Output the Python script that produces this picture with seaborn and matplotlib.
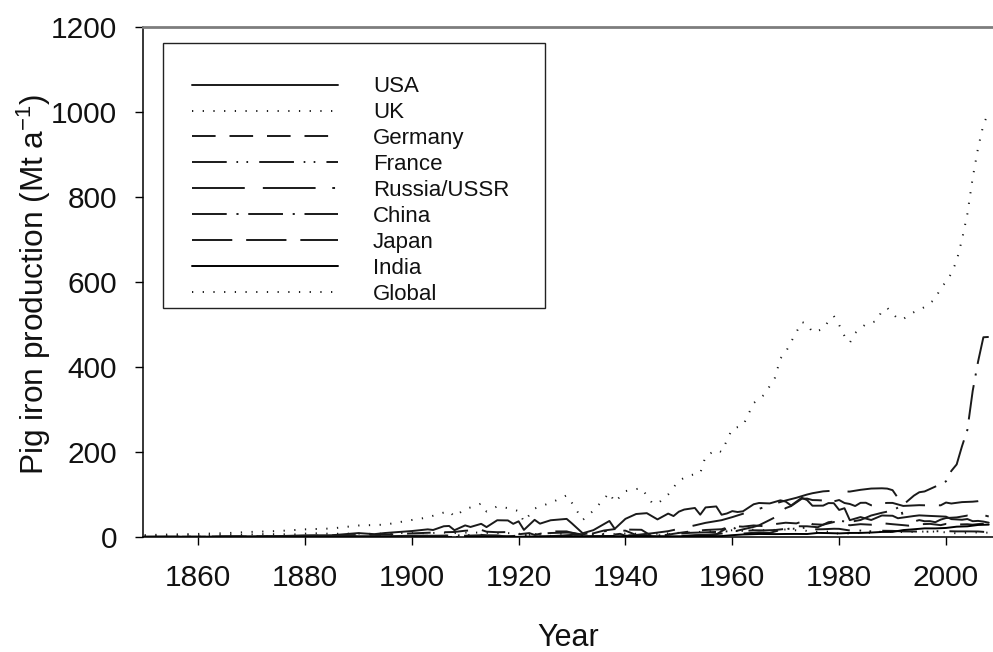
import matplotlib
matplotlib.use("Agg")
import matplotlib.pyplot as plt
from matplotlib.patches import Rectangle
import seaborn as sns
import pandas as pd

# ---------------- data (Mt per year) ----------------
global_years = [1850, 1855, 1860, 1865, 1870, 1875, 1880, 1885, 1890, 1895, 1900, 1903, 1905, 1907, 1908,
                1910, 1912, 1913, 1914, 1916, 1918, 1920, 1921, 1923, 1925, 1927, 1929, 1930, 1932, 1934,
                1937, 1938, 1940, 1943, 1945, 1946, 1948, 1950, 1952, 1954, 1955, 1957, 1958, 1960, 1962,
                1964, 1966, 1968, 1969, 1970, 1971, 1972, 1973, 1974, 1975, 1977, 1978, 1979, 1980, 1981,
                1982, 1983, 1985, 1987, 1988, 1989, 1991, 1992, 1994, 1996, 1998, 1999, 2000, 2001, 2002,
                2003, 2004, 2005, 2006, 2007, 2008]
global_vals = [4.5, 6, 7.3, 9, 12, 14, 18, 20, 27, 29, 40, 46, 54, 61, 48,
               66, 73, 79, 60, 72, 68, 61, 36, 67, 76, 86, 98, 80, 40, 62,
               104, 82, 108, 115, 80, 78, 100, 133, 145, 150, 190, 205, 200, 255, 262,
               315, 335, 375, 420, 435, 459, 482, 506, 501, 482, 489, 508, 520, 499, 473,
               457, 480, 501, 508, 532, 539, 513, 513, 529, 541, 560, 586, 600, 620, 650,
               700, 760, 845, 915, 970, 1000]

usa_years = [1850, 1860, 1870, 1875, 1880, 1885, 1890, 1893, 1895, 1900, 1903, 1904, 1906, 1907, 1908,
             1910, 1911, 1913, 1914, 1916, 1918, 1919, 1920, 1921, 1923, 1924, 1926, 1929, 1930, 1932,
             1934, 1937, 1938, 1940, 1942, 1944, 1946, 1948, 1949, 1950, 1951, 1953, 1954, 1955, 1957,
             1958, 1959, 1960, 1961, 1962, 1964, 1965, 1967, 1969, 1970, 1971, 1973, 1974, 1975, 1977,
             1978, 1979, 1980, 1981, 1982, 1984, 1986, 1988, 1990, 1991, 1994, 1995, 1997, 2000, 2001,
             2003, 2004, 2005, 2006, 2007, 2008]
usa_vals = [0.6, 0.8, 1.7, 2.1, 3.8, 4.1, 9.2, 6.7, 9.4, 14, 18, 16.5, 25.3, 26, 16,
            27.3, 23.6, 31, 23.3, 39.4, 39, 31, 36.9, 16.7, 40.4, 31.4, 39.4, 42.6, 31.8, 8.8,
            16.1, 37.7, 19.2, 42.7, 54.1, 56.1, 41.4, 55.1, 49.3, 59.6, 64.6, 68.3, 52.5, 69.6, 71.9,
            52.4, 55.4, 60.9, 58.8, 60.5, 77, 80, 79, 86.3, 83.3, 74, 92.3, 86.9, 73.6, 73.8,
            79.8, 79.6, 63.7, 67.7, 39.6, 46.9, 40, 50.6, 50, 44.1, 49.4, 50.9, 49.6, 47.9, 42.1,
            40.6, 42.3, 37.2, 37.9, 36.3, 33.7]

uk_years = [1850, 1855, 1860, 1865, 1870, 1872, 1875, 1879, 1880, 1882, 1885, 1887, 1890, 1893, 1896,
            1899, 1900, 1903, 1906, 1908, 1910, 1913, 1915, 1918, 1920, 1921, 1923, 1926, 1927, 1929,
            1931, 1933, 1935, 1937, 1938, 1940, 1943, 1945, 1947, 1950, 1952, 1955, 1957, 1958, 1960,
            1962, 1964, 1966, 1968, 1970, 1972, 1973, 1974, 1975, 1977, 1979, 1980, 1982, 1984, 1986,
            1988, 1990, 1992, 1994, 1996, 1998, 2000, 2002, 2004, 2006, 2008]
uk_vals = [2.3, 3.3, 3.9, 4.9, 6.1, 6.8, 6.5, 6.1, 7.9, 8.7, 7.5, 7.7, 8.0, 7.1, 8.8,
           9.6, 9.1, 9.1, 10.3, 9.2, 10.2, 10.4, 8.9, 9.2, 8.2, 2.7, 7.6, 2.5, 7.4, 7.7,
           3.8, 4.2, 6.5, 8.6, 6.9, 8.3, 7.3, 7.2, 7.9, 9.8, 10.9, 12.7, 14.5, 13.1, 16.0,
           14.2, 17.3, 15.9, 16.7, 17.7, 15.6, 17.1, 14.0, 12.3, 12.4, 13.0, 6.4, 8.7, 9.5, 9.8,
           12.9, 12.3, 11.6, 12.2, 12.8, 12.7, 10.9, 8.6, 10.2, 10.8, 10.1]

germany_years = [1850, 1855, 1860, 1865, 1870, 1875, 1880, 1885, 1890, 1895, 1900, 1905, 1908, 1910, 1913,
                 1914, 1916, 1918, 1919, 1920, 1922, 1923, 1925, 1927, 1929, 1930, 1932, 1934, 1936, 1938,
                 1940, 1943, 1945, 1946, 1948, 1950, 1952, 1955, 1958, 1960, 1962, 1964, 1966, 1968, 1970,
                 1972, 1974, 1975, 1977, 1979, 1980, 1982, 1984, 1986, 1988, 1990, 1992, 1993, 1995, 1997,
                 1999, 2000, 2002, 2004, 2005, 2006, 2007, 2008]
germany_vals = [0.2, 0.4, 0.5, 1.0, 1.4, 2.0, 2.7, 3.7, 4.7, 5.5, 8.5, 10.9, 11.8, 14.8, 16.8,
                12.5, 11.3, 11.6, 5.6, 6.4, 9.2, 4.9, 10.2, 13.1, 13.2, 9.7, 3.9, 8.7, 15.3, 18.6,
                17.5, 17.0, 1.5, 2.1, 5.5, 9.5, 12.9, 16.5, 18.3, 25.7, 24.3, 27.2, 25.4, 30.4, 33.6,
                32.0, 40.2, 30.1, 28.9, 35.2, 33.9, 27.6, 30.2, 28.9, 32.5, 30.1, 27.9, 26.7, 30.0, 30.9,
                27.9, 30.8, 29.4, 30.0, 28.9, 30.4, 31.1, 29.1]

france_years = [1850, 1855, 1860, 1865, 1870, 1875, 1880, 1885, 1890, 1895, 1900, 1905, 1910, 1913, 1914,
                1915, 1917, 1919, 1920, 1922, 1924, 1926, 1929, 1930, 1932, 1934, 1936, 1938, 1939, 1940,
                1942, 1944, 1946, 1948, 1950, 1952, 1955, 1957, 1960, 1962, 1964, 1966, 1968, 1970, 1972,
                1974, 1975, 1977, 1979, 1980, 1982, 1984, 1986, 1988, 1990, 1992, 1994, 1996, 1998, 2000,
                2002, 2004, 2006, 2008]
france_vals = [0.4, 0.9, 0.9, 1.2, 1.2, 1.5, 1.7, 1.6, 2.0, 2.0, 2.7, 3.1, 4.0, 5.2, 2.7,
               0.6, 1.4, 2.4, 3.4, 5.2, 7.7, 9.4, 10.4, 10.0, 5.5, 6.2, 6.2, 6.0, 7.4, 3.0,
               3.4, 1.2, 3.5, 6.6, 7.8, 9.8, 11.0, 11.9, 14.0, 14.0, 15.8, 15.6, 16.4, 19.2, 19.6,
               22.5, 17.9, 18.3, 19.4, 19.2, 15.3, 15.1, 13.4, 14.7, 14.4, 13.1, 13.0, 12.1, 13.6, 13.7,
               13.2, 13.2, 13.0, 11.2]

russia_years = [1850, 1860, 1870, 1880, 1890, 1900, 1905, 1910, 1913, 1916, 1918, 1920, 1925, 1928, 1930,
                1932, 1935, 1937, 1940, 1942, 1945, 1948, 1950, 1953, 1955, 1958, 1960, 1963, 1965, 1968,
                1970, 1972, 1974, 1975, 1977, 1979, 1980, 1982, 1984, 1986, 1988, 1989, 1990, 1991, 1992,
                1993, 1994, 1995, 1996, 1997, 1998, 1999, 2000, 2002, 2004, 2005, 2006, 2007, 2008]
russia_vals = [0.2, 0.3, 0.4, 0.5, 0.9, 2.9, 2.7, 3.0, 4.2, 3.8, 0.6, 0.1, 1.3, 3.3, 5.0,
               6.2, 12.5, 14.5, 14.9, 4.8, 8.8, 13.7, 19.2, 27.4, 33.3, 39.6, 46.8, 58.7, 66.2, 78.8,
               85.9, 92.3, 99.9, 103.0, 107.4, 109.0, 107.3, 106.9, 111.0, 114.0, 114.6, 113.9, 110.2, 92.0, 46.1,
               40.9, 36.5, 39.8, 37.1, 37.3, 34.8, 40.9, 44.6, 46.1, 50.4, 48.4, 51.7, 51.5, 48.3]

china_years = [1900, 1910, 1920, 1930, 1936, 1943, 1949, 1950, 1952, 1955, 1957, 1958, 1959, 1960, 1961,
               1962, 1965, 1967, 1969, 1970, 1972, 1974, 1976, 1978, 1980, 1982, 1984, 1986, 1988, 1990,
               1992, 1994, 1995, 1996, 1998, 2000, 2001, 2002, 2003, 2004, 2005, 2006, 2007, 2008]
china_vals = [0.03, 0.12, 0.26, 0.5, 0.8, 1.8, 0.25, 1.0, 1.9, 3.9, 5.9, 13.7, 20.5, 27.2, 12.8,
              8.1, 10.8, 9.6, 16.5, 17.1, 25.3, 25.2, 23.0, 34.8, 38.0, 35.5, 40.0, 50.6, 57.0, 62.4,
              75.9, 97.4, 105.3, 107.2, 118.6, 131.0, 155.5, 170.8, 213.7, 251.9, 343.8, 412.4, 470.0, 470.7]

japan_years = [1900, 1910, 1920, 1930, 1935, 1938, 1940, 1942, 1943, 1945, 1946, 1948, 1950, 1953, 1955,
               1957, 1959, 1960, 1962, 1964, 1965, 1967, 1968, 1969, 1970, 1971, 1973, 1974, 1975, 1976,
               1977, 1978, 1979, 1980, 1981, 1982, 1983, 1984, 1985, 1986, 1987, 1988, 1989, 1990, 1992,
               1993, 1995, 1996, 1998, 1999, 2000, 2001, 2003, 2005, 2006, 2007, 2008]
japan_vals = [0.02, 0.19, 0.52, 1.16, 1.9, 2.6, 3.5, 4.3, 4.0, 1.0, 0.2, 0.8, 2.2, 4.5, 5.2,
              6.8, 9.4, 11.9, 18.0, 23.8, 27.5, 40.0, 46.4, 57.9, 68.0, 72.7, 90.0, 90.4, 86.9, 86.6,
              85.9, 78.6, 83.8, 87.0, 80.0, 77.7, 72.9, 80.4, 80.6, 74.7, 73.4, 79.3, 80.2, 80.2, 73.1,
              73.7, 74.9, 74.6, 74.9, 74.5, 81.1, 78.8, 82.1, 83.1, 84.3, 86.8, 86.2]

india_years = [1910, 1920, 1925, 1930, 1935, 1940, 1945, 1950, 1955, 1958, 1960, 1962, 1965, 1968, 1970,
               1972, 1974, 1976, 1978, 1980, 1982, 1984, 1986, 1988, 1990, 1992, 1994, 1996, 1998, 2000,
               2002, 2004, 2006, 2008]
india_vals = [0.2, 0.3, 0.9, 1.2, 1.5, 2.0, 1.5, 1.7, 1.9, 2.2, 4.3, 5.9, 7.1, 6.8, 7.1,
              7.2, 7.0, 9.6, 9.2, 8.5, 9.5, 9.6, 10.5, 11.9, 12.0, 16.3, 18.2, 20.3, 20.2, 21.3,
              24.3, 25.1, 28.3, 29.1]

labels = ["USA", "UK", "Germany", "France", "Russia/USSR", "China", "Japan", "India", "Global"]
series_years = [usa_years, uk_years, germany_years, france_years, russia_years,
                china_years, japan_years, india_years, global_years]
series_vals = [usa_vals, uk_vals, germany_vals, france_vals, russia_vals,
               china_vals, japan_vals, india_vals, global_vals]
y_ticks = [0, 200, 400, 600, 800, 1000, 1200]
x_ticks = [1860, 1880, 1900, 1920, 1940, 1960, 1980, 2000]

# ---------------- styling ----------------
sns.set_theme(style="white")
plt.rcParams["font.family"] = ["Liberation Sans", "DejaVu Sans"]
plt.rcParams["mathtext.default"] = "regular"
plt.rcParams["lines.scale_dashes"] = False

line_styles = {
    "USA": "-",
    "UK": (0, (0.9, 6.8)),
    "Germany": (0, (17, 10)),
    "France": (0, (25, 7, 1.2, 6, 1.2, 8)),
    "Russia/USSR": (0, (38, 13, 38, 12, 2, 12)),
    "China": (0, (25, 7, 1.5, 7)),
    "Japan": (0, (29, 10)),
    "India": "-",
    "Global": (0, (0.9, 6.8)),
}
line_colors = {
    "USA": "#1a1a1a", "UK": "#1a1a1a", "Germany": "#1a1a1a", "France": "#1a1a1a",
    "Russia/USSR": "#1a1a1a", "China": "#1a1a1a", "Japan": "#1a1a1a", "India": "#000000",
    "Global": "#1a1a1a",
}

fig = plt.figure(figsize=(9.93, 6.52), dpi=100)
W, H = 993, 652
ax = fig.add_axes([143 / W, (H - 537) / H, (993 - 143) / W, (537 - 27) / H])

for lab, yrs, vals in zip(labels, series_years, series_vals):
    df = pd.DataFrame({"Year": yrs, "Value": vals})
    sns.lineplot(data=df, x="Year", y="Value", ax=ax, label=lab,
                 color=line_colors[lab], linestyle=line_styles[lab],
                 linewidth=1.4, dash_capstyle="butt", estimator=None, sort=True)

ax.set_xlim(1849.7, 2008.8)
ax.set_ylim(0, 1200)
ax.set_xticks(x_ticks)
ax.set_yticks(y_ticks)
ax.set_xticklabels([str(t) for t in x_ticks])
ax.set_yticklabels([str(t) for t in y_ticks])

ax.tick_params(axis="both", which="major", direction="out", length=5.8, width=1.0,
               labelsize=21.5, colors="black", labelcolor="#111111")
ax.tick_params(axis="x", pad=14, bottom=True)
ax.tick_params(axis="y", pad=13, left=True)

for side in ["left", "bottom"]:
    ax.spines[side].set_color("black")
    ax.spines[side].set_linewidth(1.1)
ax.spines["right"].set_visible(False)
ax.spines["top"].set_color("#7d7d7d")
ax.spines["top"].set_linewidth(2.0)

ax.set_xlabel("Year", fontsize=22, color="#111111", labelpad=22)
ax.set_ylabel("Pig iron production (Mt a$^{-1}$)", fontsize=22.8, color="#111111")
ax.yaxis.set_label_coords(-0.106, 0.495)

# legend (frame drawn separately)
handles, labs = ax.get_legend_handles_labels()
leg = ax.legend(handles, labs, loc="upper left", bbox_to_anchor=(0.0576, 0.903),
                frameon=False, fontsize=16, handlelength=6.57, handletextpad=1.58,
                labelspacing=0.22, borderpad=0, borderaxespad=0)
for t in leg.get_texts():
    t.set_color("#111111")
ax.add_patch(Rectangle((0.0235, 0.449), 0.4494, 0.5196, transform=ax.transAxes,
                       fill=False, edgecolor="#222222", linewidth=1.0, zorder=5))

ax.set_facecolor("white")
fig.patch.set_facecolor("white")
fig.savefig("out.png", dpi=100, facecolor="white")
